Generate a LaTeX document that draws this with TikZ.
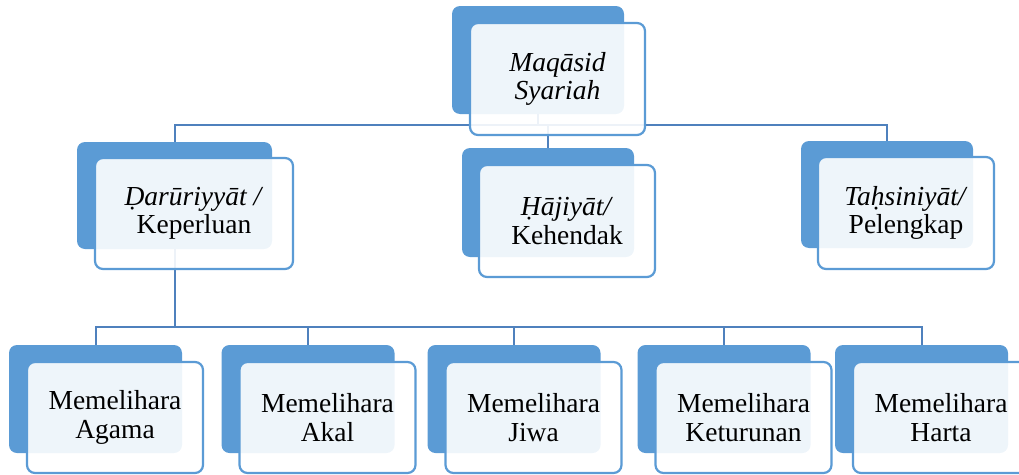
\documentclass[tikz,border=0pt]{standalone}
\usepackage{fontspec}
\setmainfont{Liberation Serif}
\usetikzlibrary{backgrounds}
\definecolor{boxblue}{HTML}{5B9BD5}
\definecolor{linkblue}{HTML}{4F81BD}
\begin{document}
\begin{tikzpicture}[x=1pt, y=-1pt,
    back/.style={fill=boxblue, rounded corners=8pt, minimum width=173pt, minimum height=108pt, inner sep=0pt},
    front/.style={draw=boxblue, line width=2.2pt, fill=white, fill opacity=0.9, text opacity=1, rounded corners=8pt,
        minimum width=176pt, minimum height=111pt, inner sep=0pt, align=center, font=\fontsize{27.5}{28.5}\selectfont},
    link/.style={draw=linkblue, line width=2pt}]
\useasboundingbox (0,0) rectangle (1019,474);
\coordinate (j1) at (538,125);
\coordinate (j2) at (174.5,327);
% top
\node[back, minimum width=172pt] (top-b) at (538,60) {};
\node[front, minimum width=175pt, minimum height=112pt] (top) at (557.5,79) {\textit{Maqāsid}\\\textit{Syariah}};
% middle row
\node[back, minimum width=195pt, minimum height=107pt] (dar-b) at (174.5,195.5) {};
\node[front, minimum width=198pt] (dar) at (194,213.5) {\textit{Ḍarūriyyāt /}\\Keperluan};
\node[back, minimum width=172pt, minimum height=109pt] (haj-b) at (548,202.5) {};
\node[front, minimum height=112pt] (haj) at (567,221) {\textit{Ḥājiyāt/}\\Kehendak};
\node[back, minimum width=172pt, minimum height=107pt] (tah-b) at (887,194.5) {};
\node[front, minimum height=112pt] (tah) at (906,213) {\textit{Taḥsiniyāt/}\\Pelengkap};
% bottom row
\foreach \n/\x/\t in {aga/115/Agama, aka/327.5/Akal, jiw/533.5/Jiwa, ket/743.5/Keturunan, har/941/Harta}{
    \node[back] (\n-b) at (\x-19.5,399) {};
    \node[front] (\n) at (\x,417.5) {Memelihara\\\t};
}
\begin{scope}[on background layer]
\draw[link] (top-b.south) -- (j1);
\foreach \n in {dar,haj,tah} \draw[link] (j1) -| (\n-b.north);
\draw[link] (dar-b.south) -- (j2);
\foreach \n in {aga,aka,jiw,ket,har} \draw[link] (j2) -| (\n-b.north);
\end{scope}
\end{tikzpicture}
\end{document}
